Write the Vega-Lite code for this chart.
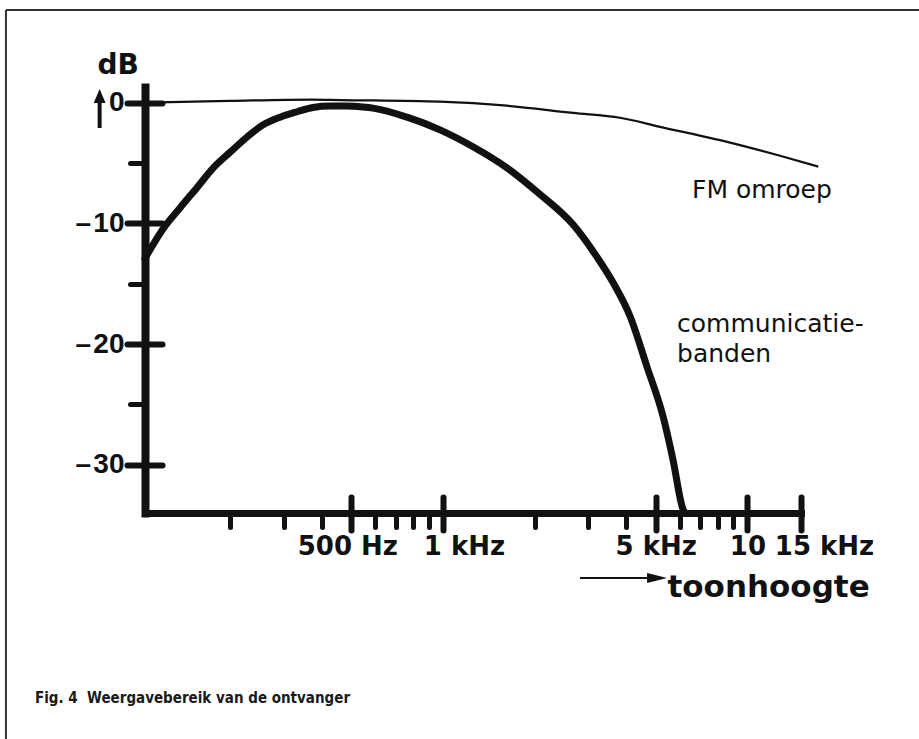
{
  "$schema": "https://vega.github.io/schema/vega-lite/v6.json",
  "width": 656,
  "height": 426,
  "autosize": {"type": "none"},
  "padding": {"left": 145, "top": 87, "right": 118, "bottom": 226},
  "background": "white",
  "config": {
    "view": {"stroke": null},
    "font": "DejaVu Sans",
    "axis": {"grid": false, "domainColor": "#111", "tickColor": "#111", "labelColor": "#111", "titleColor": "#111"}
  },
  "datasets": {
    "curves": [
      {"series": "communicatiebanden", "freq": 105, "dB": -12.9},
      {"series": "communicatiebanden", "freq": 120, "dB": -10.5},
      {"series": "communicatiebanden", "freq": 137, "dB": -8.7},
      {"series": "communicatiebanden", "freq": 156, "dB": -7.0},
      {"series": "communicatiebanden", "freq": 176, "dB": -5.4},
      {"series": "communicatiebanden", "freq": 200, "dB": -4.1},
      {"series": "communicatiebanden", "freq": 227, "dB": -2.85},
      {"series": "communicatiebanden", "freq": 256, "dB": -1.85},
      {"series": "communicatiebanden", "freq": 292, "dB": -1.2},
      {"series": "communicatiebanden", "freq": 332, "dB": -0.75},
      {"series": "communicatiebanden", "freq": 374, "dB": -0.4},
      {"series": "communicatiebanden", "freq": 426, "dB": -0.28},
      {"series": "communicatiebanden", "freq": 484, "dB": -0.28},
      {"series": "communicatiebanden", "freq": 546, "dB": -0.36},
      {"series": "communicatiebanden", "freq": 589, "dB": -0.45},
      {"series": "communicatiebanden", "freq": 762, "dB": -1.2},
      {"series": "communicatiebanden", "freq": 978, "dB": -2.25},
      {"series": "communicatiebanden", "freq": 1255, "dB": -3.65},
      {"series": "communicatiebanden", "freq": 1623, "dB": -5.4},
      {"series": "communicatiebanden", "freq": 2084, "dB": -7.6},
      {"series": "communicatiebanden", "freq": 2675, "dB": -10.1},
      {"series": "communicatiebanden", "freq": 3208, "dB": -12.8},
      {"series": "communicatiebanden", "freq": 3620, "dB": -14.9},
      {"series": "communicatiebanden", "freq": 4117, "dB": -17.7},
      {"series": "communicatiebanden", "freq": 4681, "dB": -21.9},
      {"series": "communicatiebanden", "freq": 5284, "dB": -26.0},
      {"series": "communicatiebanden", "freq": 5698, "dB": -29.6},
      {"series": "communicatiebanden", "freq": 6147, "dB": -33.7},
      {"series": "communicatiebanden", "freq": 6240, "dB": -34.0},
      {"series": "FM omroep", "freq": 105, "dB": 0.0},
      {"series": "FM omroep", "freq": 200, "dB": 0.15},
      {"series": "FM omroep", "freq": 370, "dB": 0.26},
      {"series": "FM omroep", "freq": 459, "dB": 0.22},
      {"series": "FM omroep", "freq": 977, "dB": 0.08},
      {"series": "FM omroep", "freq": 1622, "dB": -0.25},
      {"series": "FM omroep", "freq": 2673, "dB": -0.85},
      {"series": "FM omroep", "freq": 3816, "dB": -1.25},
      {"series": "FM omroep", "freq": 5166, "dB": -2.0},
      {"series": "FM omroep", "freq": 8575, "dB": -3.25},
      {"series": "FM omroep", "freq": 12800, "dB": -4.4},
      {"series": "FM omroep", "freq": 17100, "dB": -5.3}
    ]
  },
  "resolve": {"axis": {"x": "independent", "y": "independent"}},
  "layer": [
    {
      "layer": [
        {
          "data": {"name": "curves"},
          "transform": [{"filter": "datum.series == 'communicatiebanden'"}],
          "mark": {"type": "line", "interpolate": "monotone", "strokeWidth": 7, "color": "#111", "strokeCap": "round"},
          "encoding": {
            "x": {
              "field": "freq",
              "type": "quantitative",
              "scale": {"type": "log", "domain": [105, 15000], "nice": false},
              "axis": {
                "orient": "bottom",
                "values": [200, 300, 400, 500, 600, 700, 800, 900, 1000, 2000, 3000, 4000, 5000, 6000, 7000, 8000, 9000, 10000, 15000],
                "title": "toonhoogte",
                "titleX": 522,
                "titleY": 83,
                "titleAlign": "left",
                "titleBaseline": "alphabetic",
                "titleFont": "DejaVu Sans",
                "titleFontWeight": "bold",
                "titleFontSize": 31,
                "labelExpr": "datum.value == 500 ? '500 Hz' : datum.value == 1000 ? '1 kHz' : datum.value == 5000 ? '5 kHz' : datum.value == 10000 ? '10' : datum.value == 15000 ? '15 kHz' : ''",
                "labelFont": "DejaVu Sans",
                "labelFontWeight": "bold",
                "labelFontSize": 26,
                "labelPadding": 3,
                "labelFlush": false,
                "labelOverlap": false,
                "labelOffset": {"condition": [{"test": "datum.value == 1000", "value": 21}, {"test": "datum.value == 15000", "value": 23}, {"test": "datum.value == 500", "value": -4}], "value": 0},
                "tickSize": {"condition": {"test": "indexof([500, 1000, 5000, 10000, 15000], datum.value) >= 0", "value": 17}, "value": 14},
                "tickWidth": {"condition": {"test": "indexof([500, 1000, 5000, 10000, 15000], datum.value) >= 0", "value": 6}, "value": 5},
                "tickCap": "round",
                "domainWidth": 7,
                "domainCap": "square"
              }
            },
            "y": {
              "field": "dB",
              "type": "quantitative",
              "scale": {"domain": [-34, 1.3], "nice": false, "zero": false},
              "axis": {
                "orient": "left",
                "values": [-30, -25, -20, -15, -10, -5, 0],
                "title": "dB",
                "titleAngle": 0,
                "titleX": -48,
                "titleY": -14,
                "titleAlign": "left",
                "titleBaseline": "alphabetic",
                "titleFont": "DejaVu Sans",
                "titleFontWeight": "bold",
                "titleFontSize": 28,
                "labelExpr": "datum.value == 0 ? '0' : (datum.value % 10 == 0 ? '–\u200a' + abs(datum.value) : '')",
                "labelFont": "Liberation Sans",
                "labelFontWeight": "bold",
                "labelFontSize": 28,
                "labelPadding": 3,
                "labelFlush": false,
                "labelOverlap": false,
                "tickSize": {"condition": {"test": "datum.value % 10 == 0", "value": 18}, "value": 15},
                "tickWidth": {"condition": {"test": "datum.value % 10 == 0", "value": 6}, "value": 5},
                "tickCap": "round",
                "domainWidth": 8,
                "domainCap": "square"
              }
            }
          }
        },
        {
          "data": {"name": "curves"},
          "transform": [{"filter": "datum.series == 'FM omroep'"}],
          "mark": {"type": "line", "interpolate": "monotone", "strokeWidth": 2.2, "color": "#111"},
          "encoding": {
            "x": {"field": "freq", "type": "quantitative"},
            "y": {"field": "dB", "type": "quantitative"}
          }
        },
        {
          "data": {"values": [{}]},
          "mark": {"type": "rule", "color": "#333", "strokeWidth": 2},
          "encoding": {
            "x": {"datum": 36.68, "type": "quantitative"},
            "x2": {"datum": 36642},
            "y": {"datum": 7.68, "type": "quantitative"}
          }
        },
        {
          "data": {"values": [{}]},
          "mark": {"type": "rule", "color": "#333", "strokeWidth": 2},
          "encoding": {
            "x": {"datum": 36.68, "type": "quantitative"},
            "y": {"datum": 7.68, "type": "quantitative"},
            "y2": {"datum": -52.73}
          }
        },
        {
          "data": {"values": [{}]},
          "mark": {"type": "rule", "color": "#111", "strokeWidth": 4},
          "encoding": {
            "x": {"datum": 74.5, "type": "quantitative"},
            "y": {"datum": 0.223, "type": "quantitative"},
            "y2": {"datum": -2.097}
          }
        },
        {
          "data": {"values": [{}]},
          "mark": {"type": "point", "shape": "M0,-1L0.85,1L-0.85,1Z", "size": 196, "filled": true, "opacity": 1, "color": "#111"},
          "encoding": {
            "x": {"datum": 74.5, "type": "quantitative"},
            "y": {"datum": 0.554, "type": "quantitative"}
          }
        },
        {
          "data": {"values": [{}]},
          "mark": {"type": "rule", "color": "#111", "strokeWidth": 2},
          "encoding": {
            "x": {"datum": 2820, "type": "quantitative"},
            "x2": {"datum": 4787},
            "y": {"datum": -39.386, "type": "quantitative"}
          }
        },
        {
          "data": {"values": [{}]},
          "mark": {"type": "point", "shape": "M1,0L-1,-0.5L-1,0.5Z", "size": 400, "filled": true, "opacity": 1, "color": "#111"},
          "encoding": {
            "x": {"datum": 5049, "type": "quantitative"},
            "y": {"datum": -39.386, "type": "quantitative"}
          }
        },
        {
          "data": {"values": [{}]},
          "mark": {"type": "text", "text": "FM omroep", "font": "DejaVu Sans", "fontSize": 25, "color": "#111", "align": "left", "baseline": "alphabetic"},
          "encoding": {
            "x": {"datum": 6579, "type": "quantitative"},
            "y": {"datum": -7.898, "type": "quantitative"}
          }
        },
        {
          "data": {"values": [{}]},
          "mark": {"type": "text", "text": ["communicatie-", "banden"], "lineHeight": 30, "font": "DejaVu Sans", "fontSize": 25, "color": "#111", "align": "left", "baseline": "alphabetic"},
          "encoding": {
            "x": {"datum": 5874, "type": "quantitative"},
            "y": {"datum": -19.0, "type": "quantitative"}
          }
        },
        {
          "data": {"values": [{}]},
          "mark": {"type": "text", "text": "Fig. 4\u00a0 Weergavebereik van de ontvanger", "font": "DejaVu Sans Condensed, Liberation Sans", "fontWeight": "bold", "fontSize": 15, "color": "#1a1a1a", "align": "left", "baseline": "alphabetic"},
          "encoding": {
            "x": {"datum": 45.68, "type": "quantitative"},
            "y": {"datum": -49.744, "type": "quantitative"}
          }
        }
      ]
    },
    {
      "data": {"name": "curves"},
      "mark": {"type": "point", "opacity": 0},
      "encoding": {
        "x": {
          "field": "freq",
          "type": "quantitative",
          "axis": {"orient": "bottom", "values": [500, 1000, 5000, 10000, 15000], "tickSize": -16, "tickWidth": 6, "tickCap": "round", "domain": false, "labels": false, "title": null, "grid": false}
        },
        "y": {
          "field": "dB",
          "type": "quantitative",
          "axis": {"orient": "left", "values": [-30, -20, -10, 0], "tickSize": -17, "tickWidth": 6, "tickCap": "round", "domain": false, "labels": false, "title": null, "grid": false}
        }
      }
    }
  ]
}
